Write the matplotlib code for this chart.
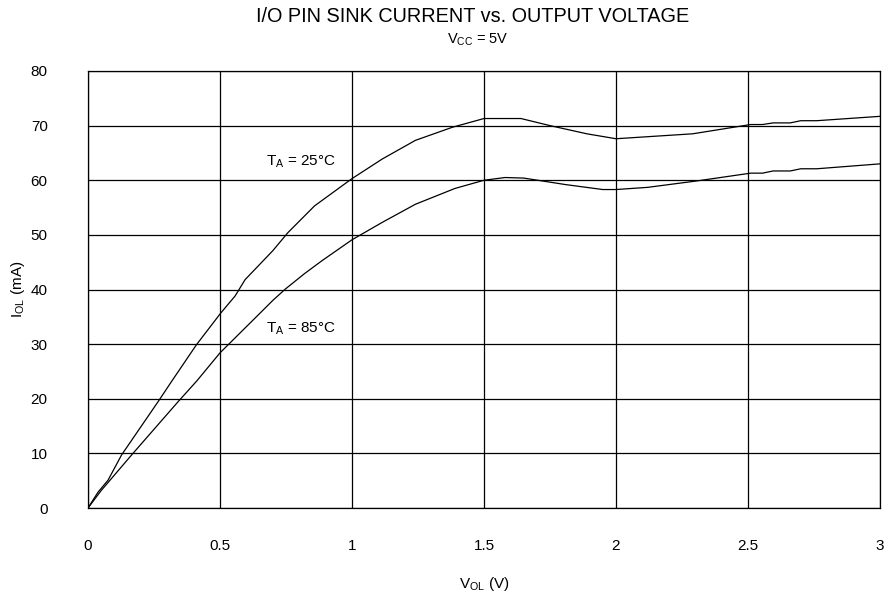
import matplotlib
matplotlib.use("Agg")
import matplotlib.pyplot as plt

# datos
v_25 = [0, 0.038, 0.076, 0.127, 0.266, 0.317, 0.411, 0.503, 0.557, 0.595, 0.70, 0.757, 0.858,
        1.0, 1.115, 1.24, 1.38, 1.50, 1.64, 1.75, 1.89, 2.0, 2.29, 2.51, 2.555, 2.595, 2.66,
        2.70, 2.76, 3.0]
i_25 = [0, 2.9, 5.1, 9.7, 19.5, 23.2, 29.9, 35.7, 38.8, 41.8, 47.1, 50.4, 55.3,
        60.3, 63.9, 67.3, 69.7, 71.3, 71.3, 70.0, 68.5, 67.6, 68.5, 70.2, 70.2, 70.5, 70.5,
        70.9, 70.9, 71.7]

v_85 = [0, 0.05, 0.165, 0.342, 0.411, 0.5, 0.646, 0.70, 0.748, 0.82, 0.887, 1.0, 1.115, 1.24,
        1.39, 1.50, 1.58, 1.65, 1.81, 1.95, 2.0, 2.12, 2.31, 2.51, 2.555, 2.595, 2.66, 2.70,
        2.76, 3.0]
i_85 = [0, 3.2, 9.7, 19.5, 23.2, 28.4, 35.4, 38.0, 40.1, 42.9, 45.3, 49.1, 52.3, 55.6,
        58.5, 60.0, 60.5, 60.4, 59.2, 58.3, 58.3, 58.7, 59.9, 61.3, 61.3, 61.7, 61.7, 62.1,
        62.1, 63.0]

x_ticks = [0, 0.5, 1, 1.5, 2, 2.5, 3]
x_labels = ['0', '0.5', '1', '1.5', '2', '2.5', '3']
y_ticks = [0, 10, 20, 30, 40, 50, 60, 70, 80]

plt.rcParams['font.family'] = ['Liberation Sans', 'DejaVu Sans']
plt.rcParams['mathtext.fontset'] = 'custom'
plt.rcParams['mathtext.rm'] = 'Liberation Sans'
plt.rcParams['mathtext.it'] = 'Liberation Sans'

fig = plt.figure(figsize=(8.92, 6.0), dpi=100)
ax = fig.add_axes([88 / 892, 1 - 508 / 600, 792 / 892, 437 / 600])

ax.plot(v_25, i_25, color='black', lw=0.9)
ax.plot(v_85, i_85, color='black', lw=0.9)

ax.set_xlim(0, 3)
ax.set_ylim(0, 80)
ax.set_xticks(x_ticks)
ax.set_xticklabels(x_labels)
ax.set_yticks(y_ticks)
ax.grid(True, color='black', lw=0.9)
for s in ax.spines.values():
    s.set_linewidth(0.9)
ax.tick_params(axis='both', length=0, labelsize=11)
ax.tick_params(axis='x', pad=22)
ax.tick_params(axis='y', pad=29)

ax.set_xlabel(r'$\mathrm{V_{OL}}$ (V)', fontsize=11, labelpad=16)
ax.set_ylabel(r'$\mathrm{I_{OL}}$ (mA)', fontsize=11, labelpad=3)

ax.text(0.94, 63.3, r'$\mathrm{T_A}$ = 25°C', fontsize=11, ha='right', va='center')
ax.text(0.94, 32.8, r'$\mathrm{T_A}$ = 85°C', fontsize=11, ha='right', va='center')

fig.text(473 / 892, 1 - 16 / 600, 'I/O PIN SINK CURRENT vs. OUTPUT VOLTAGE',
         fontsize=14.3, ha='center', va='center')
fig.text(478 / 892, 1 - 40 / 600, r'$\mathrm{V_{CC}}$ = 5V', fontsize=10.5,
         ha='center', va='center')

fig.savefig('out.png', dpi=100)
